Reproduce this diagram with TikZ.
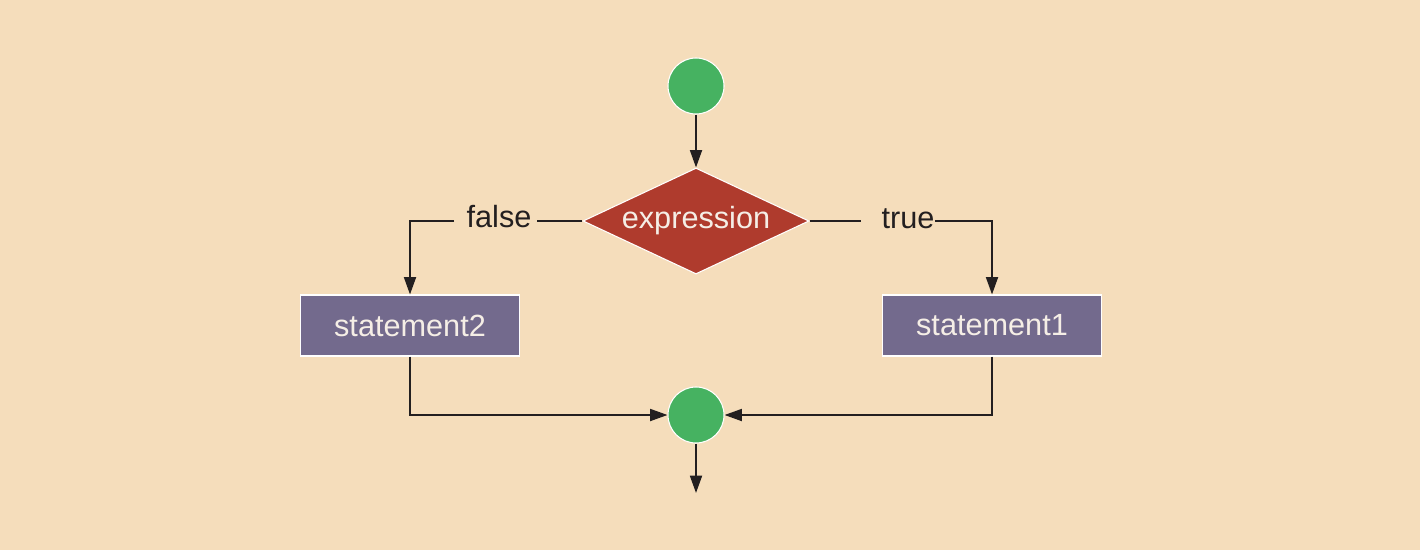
\documentclass[tikz,border=0pt]{standalone}
\usepackage{fontspec}
\setmainfont{Liberation Sans}
\usepackage{tikz}
\usetikzlibrary{shapes.geometric,arrows.meta,calc}
\definecolor{bgcol}{RGB}{245,221,187}
\definecolor{nodegreen}{RGB}{70,178,97}
\definecolor{nodered}{RGB}{175,59,45}
\definecolor{nodepurple}{RGB}{115,106,141}
\definecolor{inkcol}{RGB}{35,31,32}
\definecolor{lighttext}{RGB}{245,238,230}
\tikzset{every picture/.style={line width=0.75pt}}
\tikzset{
  startstop/.style={circle,fill=nodegreen,draw=white,line width=0.8pt,minimum size=42pt,inner sep=0pt},
  decision/.style={diamond,aspect=2.13,fill=nodered,draw=white,line width=0.8pt,minimum width=169.5pt,minimum height=79.5pt,inner sep=0pt,text=lighttext},
  process/.style={rectangle,fill=nodepurple,draw=white,line width=0.8pt,minimum width=164pt,minimum height=45.75pt,inner sep=0pt,text=lighttext},
  branchlbl/.style={inner sep=0pt,text=inkcol,anchor=base},
  line/.style={draw=inkcol,line width=1.3pt},
  flow/.style={line,-{Triangle[length=13pt,width=9pt]}},
}

\begin{document}
\begin{tikzpicture}[x=0.75pt,y=0.75pt,yscale=-1,xscale=1,font=\fontsize{23}{27}\selectfont]
		%set diagram to the full 1420 x 550 area
		\fill[bgcol] (0,0) rectangle (1420,550);
		\useasboundingbox (0,0) rectangle (1420,550);
		
		% Start / join circles
		\node[startstop] (start) at (696,86) {};
		\node[startstop] (join) at (696,415) {};
		\coordinate (out) at (696,493);
		
		% Decision
		\node[decision] (expr) at (696,221) {expression};
		
		% Statements
		\node[process] (stmt2) at (410,325.5) {statement2};
		\node[process] (stmt1) at (992,325.5) {statement1};
		
		% Branch labels
		\node[branchlbl] (falselbl) at (499,227) {false};
		\node[branchlbl] (truelbl) at (908,228) {true};
		
		% Connectors
		\draw[flow] (start) -- (expr);
		\draw[line] (expr.west) -- ($(falselbl.east |- expr.west)+(5,0)$);
		\draw[flow] ($(falselbl.west |- expr.west)+(-12,0)$) -| (stmt2.north);
		\draw[line] (expr.east) -- ($(truelbl.west |- expr.east)+(-20,0)$);
		\draw[flow] (truelbl.east |- expr.east) -| (stmt1.north);
		\draw[flow] (stmt2.south) |- (join.west);
		\draw[flow] (stmt1.south) |- (join.east);
		\draw[flow] (join) -- (out);
		
\end{tikzpicture}
\end{document}
